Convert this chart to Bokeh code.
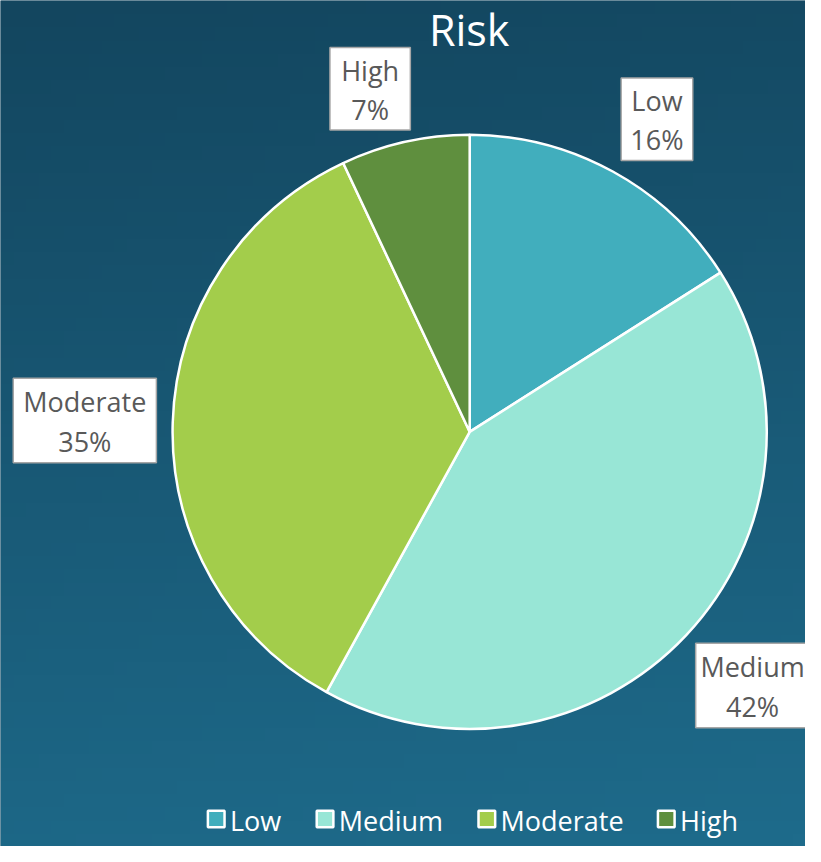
import numpy as np
from bokeh.plotting import figure
from bokeh.models import Range1d
from bokeh.core.properties import value
from bokeh.embed import file_html
from bokeh.resources import INLINE

# ---- data ----
categories = ["Low", "Medium", "Moderate", "High"]
shares = [16, 42, 35, 7]
pct_labels = ["16%", "42%", "35%", "7%"]
colors = ["#41aebd", "#98e6d6", "#a3cd4b", "#5f8f3e"]
title_text = "Risk"

W, H = 805, 846
REF_W, REF_H = 821, 862
FONT = "Open Sans"
LABEL_COLOR = "#595959"

def Y(y):
    return REF_H - y

p = figure(width=W, height=H, output_backend="svg", toolbar_location=None,
           x_range=Range1d(0, REF_W), y_range=Range1d(0, REF_H),
           min_border=0)
p.axis.visible = False
p.grid.visible = False
p.outline_line_color = None
p.background_fill_color = "#134760"
p.border_fill_color = "#134760"

# background gradient
gh, gw = 64, 64
top = np.array([0x13, 0x46, 0x5f], dtype=float)
bot = np.array([0x1e, 0x6b, 0x8b], dtype=float)
img = np.zeros((gh, gw), dtype=np.uint32)
view = img.view(dtype=np.uint8).reshape((gh, gw, 4))
for i in range(gh):
    t = i / (gh - 1)
    for j in range(gw):
        s = min(1.0, max(0.0, (1 - t) * 0.9 + (j / (gw - 1)) * 0.1))
        c = top + (bot - top) * s
        view[i, j, 0] = int(c[0]); view[i, j, 1] = int(c[1]); view[i, j, 2] = int(c[2]); view[i, j, 3] = 255
p.image_rgba(image=[img], x=0, y=0, dw=REF_W, dh=REF_H)

# pie
cx, cy, r = 478.5, Y(439.5), 303
fr = np.array(shares, dtype=float) / sum(shares)
cum = np.concatenate([[0], np.cumsum(fr)])
start_cw = np.pi / 2 - 2 * np.pi * cum[:-1]
end_cw = np.pi / 2 - 2 * np.pi * cum[1:]
p.wedge(x=cx, y=cy, radius=r, start_angle=end_cw, end_angle=start_cw,
        fill_color=colors, line_color="white", line_width=2.5)

# data labels (box centers in reference pixel coordinates)
box_centers = [(669.5, 121), (767, 698), (86, 428), (377, 90)]
box_sizes = [(73, 84), (116, 86), (146, 86), (82, 84)]
for k in range(len(categories)):
    bx, by = box_centers[k]
    bw, bhh = box_sizes[k]
    p.rect(x=bx, y=Y(by), width=bw, height=bhh, fill_color="white",
           line_color="#a6a6a6", line_width=1.5)
    p.text(x=bx, y=Y(by - 19), text=[categories[k]], text_align="center",
           text_baseline="middle", text_font=value(FONT), text_font_size="27px",
           text_color=LABEL_COLOR)
    p.text(x=bx, y=Y(by + 21), text=[pct_labels[k]], text_align="center",
           text_baseline="middle", text_font=value(FONT), text_font_size="27px",
           text_color=LABEL_COLOR)

# title
p.text(x=478, y=Y(30), text=[title_text], text_align="center", text_baseline="middle",
       text_font=value(FONT), text_font_size="43px", text_color="white")

# legend
leg_x = [220, 331, 496, 679]
leg_y = 834
for k in range(len(categories)):
    p.rect(x=leg_x[k], y=Y(leg_y), width=17, height=17, fill_color=colors[k],
           line_color="white", line_width=2.5)
    p.text(x=leg_x[k] + 14, y=Y(leg_y + 1), text=[categories[k]], text_align="left",
           text_baseline="middle", text_font=value(FONT), text_font_size="27px",
           text_color="white")

open("out.html", "w").write(file_html(p, INLINE))
